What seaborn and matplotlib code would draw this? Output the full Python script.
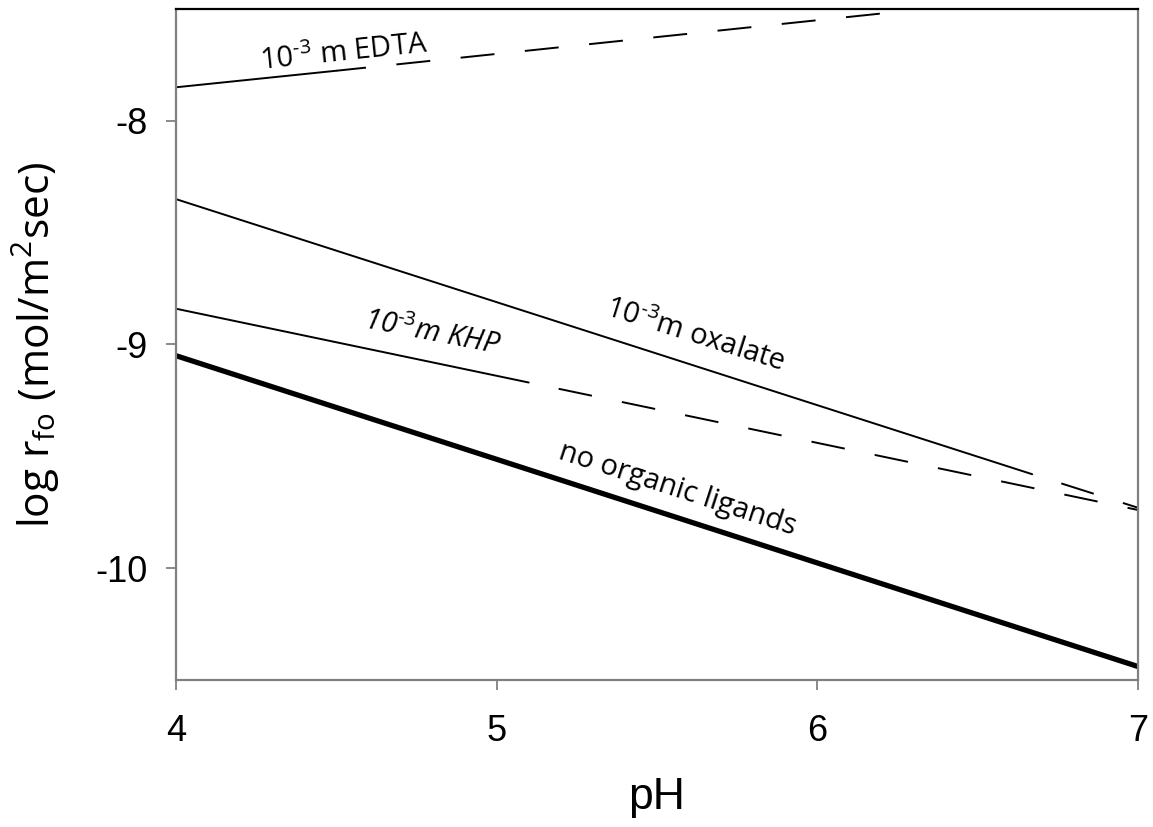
import matplotlib
matplotlib.use("Agg")
import matplotlib.pyplot as plt
import seaborn as sns

sns.set_theme(style="white")
plt.rcParams["font.family"] = ["Liberation Sans", "DejaVu Sans"]
plt.rcParams["text.color"] = "black"
plt.rcParams["axes.labelcolor"] = "black"
plt.rcParams["lines.scale_dashes"] = False
plt.rcParams["mathtext.fontset"] = "custom"
plt.rcParams["mathtext.rm"] = "Open Sans"
plt.rcParams["mathtext.it"] = "Open Sans:italic"

# Dissolution rate lines (log r_fo vs pH); each ligand has a solid and a dashed part
ph_none = [4.0, 7.0]
rate_none = [-9.05, -10.44]

ph_oxalate_solid = [4.0, 6.67]
rate_oxalate_solid = [-8.35, -9.58]
ph_oxalate_dash = [6.67, 7.0]
rate_oxalate_dash = [-9.58, -9.73]

ph_khp_solid = [4.0, 5.10]
rate_khp_solid = [-8.84, -9.17]
ph_khp_dash = [5.10, 7.0]
rate_khp_dash = [-9.17, -9.74]

ph_edta_solid = [4.0, 4.50]
rate_edta_solid = [-7.85, -7.776]
ph_edta_dash = [4.50, 6.20]
rate_edta_dash = [-7.776, -7.52]

x_ticks = [4, 5, 6, 7]
y_ticks = [-8, -9, -10]

fig = plt.figure(figsize=(11.53, 8.27), dpi=100)
ax = fig.add_axes([0.1526, 0.1778, 0.987 - 0.1526, 0.9891 - 0.1778])

thin = 1.4
dash_gap_first = (24.5, (24.5, 22.0))

sns.lineplot(x=ph_none, y=rate_none, ax=ax, color="black", lw=3.8)
sns.lineplot(x=ph_oxalate_solid, y=rate_oxalate_solid, ax=ax, color="black", lw=thin)
sns.lineplot(x=ph_oxalate_dash, y=rate_oxalate_dash, ax=ax, color="black", lw=thin,
             linestyle=dash_gap_first)
sns.lineplot(x=ph_khp_solid, y=rate_khp_solid, ax=ax, color="black", lw=thin)
sns.lineplot(x=ph_khp_dash, y=rate_khp_dash, ax=ax, color="black", lw=thin,
             linestyle=dash_gap_first)
sns.lineplot(x=ph_edta_solid, y=rate_edta_solid, ax=ax, color="black", lw=thin)
sns.lineplot(x=ph_edta_dash, y=rate_edta_dash, ax=ax, color="black", lw=thin,
             linestyle=(3.0, (24.5, 22.0)))

ax.set_xlim(4, 7)
ax.set_ylim(-10.5, -7.5)
ax.set_xticks(x_ticks)
ax.set_yticks(y_ticks)
ax.set_xticklabels([str(v) for v in x_ticks])
ax.set_yticklabels([str(v) for v in y_ticks])
ax.tick_params(axis="both", which="major", direction="out", length=7.5, width=1.3,
               color="#808080", labelsize=26, labelcolor="black",
               bottom=True, left=True, top=False, right=False)
ax.tick_params(axis="x", pad=17)
ax.tick_params(axis="y", pad=13)

for side in ["left", "right", "bottom"]:
    ax.spines[side].set_color("#808080")
    ax.spines[side].set_linewidth(1.6)
ax.spines["top"].set_color("black")
ax.spines["top"].set_linewidth(1.6)

ax.set_xlabel("pH", fontsize=32, labelpad=20)
ax.set_ylabel(r"log r$_{\mathrm{fo}}$ (mol/m$^{2}$sec)", fontsize=30.5,
              family=["Open Sans", "DejaVu Sans"], labelpad=24)

label_font = ["Open Sans", "DejaVu Sans"]
ax.text(4.524, -7.696, r"10$^{\text{-3}}$ m EDTA", fontsize=21, family=label_font,
        rotation=6, rotation_mode="anchor", ha="center", va="center")
ax.text(4.798, -8.951, r"10$^{\text{-3}}$m KHP", fontsize=21, family=label_font,
        style="italic", rotation=-11, rotation_mode="anchor", ha="center", va="center")
ax.text(5.618, -8.960, r"10$^{\text{-3}}$m oxalate", fontsize=21, family=label_font,
        rotation=-17.5, rotation_mode="anchor", ha="center", va="center")
ax.text(5.565, -9.647, "no organic ligands", fontsize=21, family=label_font,
        rotation=-18, rotation_mode="anchor", ha="center", va="center")

fig.savefig("out.png", dpi=100, facecolor="white")
